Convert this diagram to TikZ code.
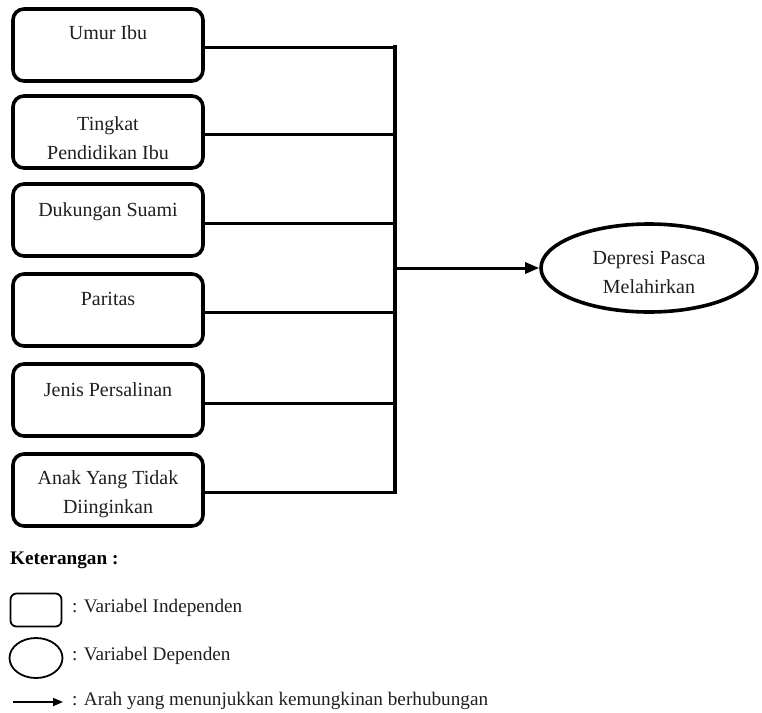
\documentclass[tikz,border=0pt]{standalone}
\usepackage{fontspec}
\setmainfont{Liberation Serif}
\usetikzlibrary{shapes.geometric,arrows.meta}
\begin{document}
\begin{tikzpicture}[x=1pt,y=-1pt,
  box/.style={draw,line width=3.6pt,rounded corners=11pt,minimum width=190pt,minimum height=72pt,inner sep=0pt},
  lbl/.style={font=\fontsize{20}{29}\selectfont,align=center,text=black!88,inner sep=0pt},
  conn/.style={line width=3pt},
  leg/.style={font=\fontsize{19.2}{24}\selectfont,anchor=west,text=black!88,inner sep=0pt},
  tip/.style={-{Triangle[length=14pt,width=11pt]}}]
\useasboundingbox (0,0) rectangle (762,712);
% independent variable boxes
\node[box] (b1) at (108,45) {};
\node[lbl] (t1) at (108,33) {Umur Ibu};
\node[box] (b2) at (108,132) {};
\node[lbl] (t2) at (108,138) {Tingkat\\Pendidikan Ibu};
\node[box] (b3) at (108,220) {};
\node[lbl] (t3) at (108,212) {Dukungan Suami};
\node[box] (b4) at (108,310) {};
\node[lbl] (t4) at (108,299) {Paritas};
\node[box] (b5) at (108,400) {};
\node[lbl] (t5) at (108,390) {Jenis Persalinan};
\node[box] (b6) at (108,490) {};
\node[lbl] (t6) at (108,494) {Anak Yang Tidak\\Diinginkan};
% dependent variable
\node[draw,ellipse,line width=3.6pt,minimum width=216pt,minimum height=88pt,inner sep=0pt] (dep) at (649,268) {};
\node[lbl] (td) at (649,272) {Depresi Pasca\\Melahirkan};
% bus
\coordinate (bus) at (395,0);
\coordinate (bt) at (395,47);
\coordinate (bb) at (395,492);
\draw[conn] ([yshift=-2pt]b1.east) -- (bt);
\draw[conn] ([yshift=-2pt]b2.east) -- ([yshift=-2pt]b2.east -| bus);
\draw[conn] ([yshift=-3pt]b3.east) -- ([yshift=-3pt]b3.east -| bus);
\draw[conn] ([yshift=-2pt]b4.east) -- ([yshift=-2pt]b4.east -| bus);
\draw[conn] ([yshift=-3pt]b5.east) -- ([yshift=-3pt]b5.east -| bus);
\draw[conn] ([yshift=-2pt]b6.east) -- (bb);
\draw[line width=3.4pt,line cap=rect] (bt) -- (bb);
\draw[conn,tip] (bus |- dep.west) -- (dep.west);
% legend
\node[font=\fontsize{19.2}{24}\selectfont\bfseries,anchor=west,inner sep=0pt] (ket) at (10,560) {Keterangan :};
\node[draw,line width=1.8pt,rounded corners=6pt,minimum width=51pt,minimum height=33pt,inner sep=0pt] (lb) at (36,610) {};
\node[leg] (l1) at (72,608) {: Variabel Independen};
\node[draw,ellipse,line width=1.8pt,minimum width=53pt,minimum height=40pt,inner sep=0pt] (le) at (36,658) {};
\node[leg] (l2) at (72,656) {: Variabel Dependen};
\coordinate (la1) at (13,702);
\coordinate (la2) at (63,702);
\draw[line width=1.8pt,-{Triangle[length=10pt,width=8pt]}] (la1) -- (la2);
\node[leg] (l3) at (72,701) {: Arah yang menunjukkan kemungkinan berhubungan};
\end{tikzpicture}
\end{document}
